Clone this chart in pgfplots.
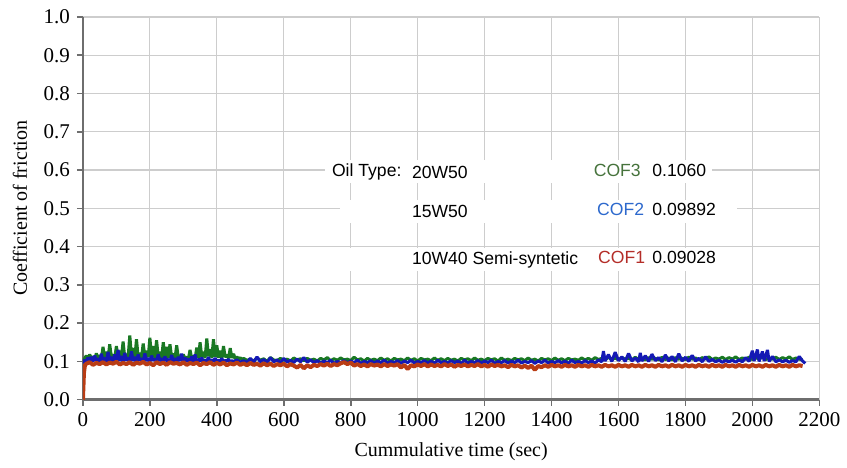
\documentclass[border=0pt]{standalone}
\usepackage{pgfplots}
\pgfplotsset{compat=1.18}
\usepackage{fontspec}
\setmainfont{Liberation Serif}
\newfontfamily\annofont{Liberation Sans}
\definecolor{cofgreen}{RGB}{25,120,35}
\definecolor{cofblue}{RGB}{20,25,180}
\definecolor{cofred}{RGB}{185,60,20}
\definecolor{lblgreen}{RGB}{70,115,60}
\definecolor{lblblue}{RGB}{45,105,205}
\definecolor{lblred}{RGB}{180,45,40}
\definecolor{axisgray}{RGB}{110,110,110}
\definecolor{gridgray}{RGB}{205,205,205}

\begin{document}
\begin{tikzpicture}
\begin{axis}[
    scale only axis,
    width=368.5pt, height=191.5pt,
    xmin=0, xmax=2200, ymin=0, ymax=1,
    xtick distance=200, ytick distance=0.1,
    axis x line=bottom, axis y line=left,
    axis line style={-, axisgray, line width=1.2pt},
    tick align=outside,
    major tick length=3pt,
    tick style={axisgray, line width=0.8pt},
    grid=major,
    major grid style={gridgray, line width=0.6pt},
    tick label style={font=\fontsize{10.5}{12}\selectfont},
    /pgf/number format/assume math mode=true,
    scaled ticks=false,
    xticklabel style={/pgf/number format/1000 sep={}},
    yticklabel style={/pgf/number format/.cd, fixed, fixed zerofill, precision=1},
    label style={font=\fontsize{10.5}{12}\selectfont},
    xlabel={Cummulative time (sec)},
    ylabel={Coefficient of friction},
    every axis x label/.style={at={(axis description cs:0.5,-0.136)}, anchor=center},
    every axis y label/.style={at={(axis description cs:-0.0855,0.5)}, rotate=90, anchor=center},
    clip=true,
]
% COF 3 - 20W50
\addplot[cofgreen, line width=1.5pt, line join=bevel] coordinates {
(0,.098) (5,.108) (10,.115) (15,.106) (20,.118) (25,.109) (30,.112) (35,.105) (40,.121) (45,.108)
(50,.116) (55,.107) (60,.138) (65,.110) (70,.125) (75,.108) (80,.145) (85,.112) (90,.118) (95,.109)
(100,.140) (105,.111) (110,.128) (115,.113) (120,.152) (125,.110) (130,.119) (135,.112) (140,.168) (145,.114)
(150,.135) (155,.110) (160,.158) (165,.112) (170,.122) (175,.109) (180,.147) (185,.113) (190,.128) (195,.111)
(200,.162) (205,.112) (210,.140) (215,.110) (220,.155) (225,.113) (230,.125) (235,.109) (240,.150) (245,.112)
(250,.138) (255,.110) (260,.145) (265,.111) (270,.120) (275,.108) (280,.142) (285,.110) (290,.116) (295,.108)
(300,.118) (305,.107) (310,.112) (315,.106) (320,.130) (325,.108) (330,.114) (335,.107) (340,.136) (345,.110)
(350,.150) (355,.112) (360,.125) (365,.109) (370,.160) (375,.113) (380,.132) (385,.110) (390,.158) (395,.112)
(400,.142) (405,.110) (410,.128) (415,.109) (420,.140) (425,.111) (430,.118) (435,.108) (440,.135) (445,.109)
(450,.120) (455,.107) (460,.112) (465,.106) (470,.110) (475,.104) (480,.108) (490,.103)
(500,.106) (510,.101) (520,.109) (530,.103) (540,.107) (550,.100) (560,.110) (570,.104) (580,.102) (590,.108)
(600,.103) (610,.106) (620,.101) (630,.109) (640,.104) (650,.107) (660,.102) (670,.108) (680,.103) (690,.106)
(700,.101) (710,.108) (720,.104) (730,.110) (740,.102) (750,.107) (760,.103) (770,.109) (780,.104) (790,.106)
(800,.102) (810,.111) (820,.104) (830,.107) (840,.101) (850,.108) (860,.103) (870,.106) (880,.102) (890,.109)
(900,.103) (910,.107) (920,.101) (930,.108) (940,.104) (950,.106) (960,.102) (970,.109) (980,.103) (990,.107)
(1000,.101) (1010,.108) (1020,.104) (1030,.106) (1040,.102) (1050,.109) (1060,.103) (1070,.107) (1080,.102) (1090,.108)
(1100,.103) (1110,.106) (1120,.101) (1130,.108) (1140,.104) (1150,.107) (1160,.102) (1170,.109) (1180,.103) (1190,.106)
(1200,.102) (1210,.108) (1220,.104) (1230,.107) (1240,.101) (1250,.109) (1260,.103) (1270,.106) (1280,.102) (1290,.108)
(1300,.104) (1310,.107) (1320,.102) (1330,.109) (1340,.103) (1350,.106) (1360,.101) (1370,.108) (1380,.104) (1390,.107)
(1400,.102) (1410,.109) (1420,.103) (1430,.107) (1440,.102) (1450,.108) (1460,.104) (1470,.106) (1480,.103) (1490,.109)
(1500,.104) (1510,.108) (1520,.103) (1530,.110) (1540,.105) (1550,.108) (1560,.104) (1570,.111) (1580,.105) (1590,.109)
(1600,.104) (1610,.110) (1620,.106) (1630,.108) (1640,.104) (1650,.111) (1660,.105) (1670,.109) (1680,.104) (1690,.110)
(1700,.106) (1710,.108) (1720,.104) (1730,.111) (1740,.105) (1750,.109) (1760,.104) (1770,.110) (1780,.106) (1790,.108)
(1800,.105) (1810,.111) (1820,.106) (1830,.109) (1840,.104) (1850,.110) (1860,.106) (1870,.112) (1880,.105) (1890,.109)
(1900,.106) (1910,.111) (1920,.105) (1930,.110) (1940,.106) (1950,.112) (1960,.105) (1970,.109) (1980,.106) (1990,.111)
(2000,.105) (2010,.110) (2020,.106) (2030,.112) (2040,.105) (2050,.109) (2060,.106) (2070,.111) (2080,.105) (2090,.110)
(2100,.106) (2110,.112) (2120,.105) (2130,.109) (2140,.106) (2150,.104)
};
% COF 2 - 15W50
\addplot[cofblue, line width=1.5pt, line join=bevel] coordinates {
(0,.095) (5,.104) (10,.099) (15,.110) (20,.101) (25,.112) (30,.100) (35,.115) (40,.102) (45,.108)
(50,.099) (55,.120) (60,.101) (65,.110) (70,.098) (75,.125) (80,.102) (85,.112) (90,.100) (95,.118)
(100,.103) (105,.130) (110,.101) (115,.114) (120,.099) (125,.122) (130,.102) (135,.110) (140,.100) (145,.126)
(150,.101) (155,.112) (160,.099) (165,.118) (170,.102) (175,.108) (180,.100) (185,.121) (190,.101) (195,.109)
(200,.099) (205,.115) (210,.102) (215,.107) (220,.100) (225,.119) (230,.101) (235,.108) (240,.099) (245,.113)
(250,.101) (255,.106) (260,.099) (265,.117) (270,.100) (275,.108) (280,.098) (285,.112) (290,.101) (295,.120)
(300,.099) (305,.110) (310,.100) (315,.107) (320,.098) (325,.113) (330,.100) (335,.118) (340,.099) (345,.106)
(350,.101) (355,.110) (360,.098) (365,.104) (370,.100) (375,.111) (380,.098) (385,.105) (390,.100) (395,.109)
(400,.098) (405,.104) (410,.100) (415,.108) (420,.098) (425,.103) (430,.100) (435,.106) (440,.098) (445,.102)
(450,.100) (460,.104) (470,.098) (480,.102) (490,.097)
(500,.108) (510,.098) (520,.112) (530,.099) (540,.105) (550,.097) (560,.110) (570,.099) (580,.104) (590,.097)
(600,.108) (610,.098) (620,.103) (630,.097) (640,.106) (650,.099) (660,.110) (670,.098) (680,.104) (690,.097)
(700,.102) (710,.096) (720,.101) (730,.097) (740,.103) (750,.095) (760,.100) (770,.097) (780,.102) (790,.096)
(800,.101) (810,.097) (820,.103) (830,.095) (840,.100) (850,.097) (860,.102) (870,.096) (880,.101) (890,.097)
(900,.103) (910,.096) (920,.100) (930,.097) (940,.102) (950,.095) (960,.101) (970,.097) (980,.103) (990,.096)
(1000,.100) (1010,.097) (1020,.102) (1030,.096) (1040,.101) (1050,.095) (1060,.103) (1070,.097) (1080,.100) (1090,.096)
(1100,.102) (1110,.097) (1120,.101) (1130,.095) (1140,.103) (1150,.096) (1160,.100) (1170,.097) (1180,.102) (1190,.096)
(1200,.101) (1210,.097) (1220,.103) (1230,.095) (1240,.100) (1250,.097) (1260,.102) (1270,.096) (1280,.101) (1290,.097)
(1300,.103) (1310,.096) (1320,.100) (1330,.097) (1340,.102) (1350,.095) (1360,.101) (1370,.097) (1380,.103) (1390,.096)
(1400,.100) (1410,.097) (1420,.102) (1430,.096) (1440,.101) (1450,.095) (1460,.103) (1470,.097) (1480,.100) (1490,.096)
(1500,.102) (1510,.097) (1520,.101) (1530,.096) (1540,.104) (1550,.099) (1555,.127) (1560,.101) (1570,.118) (1580,.100)
(1590,.124) (1600,.102) (1610,.112) (1620,.100) (1630,.121) (1640,.101) (1650,.109) (1660,.099) (1665,.122) (1670,.101)
(1680,.115) (1690,.100) (1700,.119) (1710,.102) (1720,.110) (1730,.099) (1740,.117) (1750,.101) (1760,.113) (1770,.099)
(1780,.120) (1790,.101) (1800,.111) (1810,.100) (1820,.116) (1830,.101) (1840,.108) (1850,.099) (1860,.112) (1870,.100)
(1880,.105) (1890,.099) (1900,.103) (1910,.098) (1920,.102) (1930,.099) (1940,.103) (1950,.098) (1960,.104) (1970,.099)
(1980,.110) (1990,.100) (2000,.128) (2005,.101) (2015,.131) (2020,.100) (2030,.126) (2035,.101) (2045,.130) (2050,.100)
(2060,.113) (2070,.099) (2080,.104) (2090,.099) (2100,.103) (2110,.098) (2120,.102) (2130,.099) (2140,.113) (2150,.101)
(2158,.095)
};
% COF 1 - 10W40 Semi-syntetic
\addplot[cofred, line width=2.0pt, line join=bevel] coordinates {
(0,.000) (3,.070) (6,.090) (10,.094) (20,.098) (30,.091) (40,.096) (50,.093) (60,.098) (70,.092)
(80,.097) (90,.094) (100,.099) (110,.092) (120,.096) (130,.093) (140,.098) (150,.091) (160,.097) (170,.094)
(180,.099) (190,.092) (200,.096) (210,.090) (220,.098) (230,.093) (240,.097) (250,.091) (260,.098) (270,.094)
(280,.096) (290,.092) (300,.098) (310,.091) (320,.096) (330,.093) (340,.097) (350,.090) (360,.096) (370,.093)
(380,.098) (390,.091) (400,.096) (410,.092) (420,.097) (430,.090) (440,.095) (450,.092) (460,.097) (470,.091)
(480,.095) (490,.090) (500,.096) (510,.091) (520,.094) (530,.089) (540,.095) (550,.090) (560,.094) (570,.088)
(580,.093) (590,.090) (600,.094) (610,.087) (620,.093) (630,.089) (640,.084) (650,.091) (660,.082) (670,.090)
(680,.085) (690,.091) (700,.088) (710,.093) (720,.089) (730,.094) (740,.088) (750,.093) (760,.090) (770,.095)
(780,.098) (790,.093) (800,.097) (810,.089) (820,.093) (830,.088) (840,.092) (850,.087) (860,.093) (870,.089)
(880,.092) (890,.087) (900,.093) (910,.088) (920,.092) (930,.089) (940,.093) (950,.084) (960,.091) (970,.080)
(980,.090) (990,.087) (1000,.092) (1010,.088) (1020,.093) (1030,.087) (1040,.092) (1050,.088) (1060,.091) (1070,.087)
(1080,.093) (1090,.088) (1100,.092) (1110,.086) (1120,.091) (1130,.088) (1140,.092) (1150,.087) (1160,.091) (1170,.088)
(1180,.093) (1190,.087) (1200,.091) (1210,.086) (1220,.092) (1230,.088) (1240,.091) (1250,.087) (1260,.090) (1270,.085)
(1280,.091) (1290,.087) (1300,.090) (1310,.084) (1320,.089) (1330,.083) (1340,.089) (1350,.078) (1360,.088) (1370,.085)
(1380,.090) (1390,.086) (1400,.091) (1410,.087) (1420,.090) (1430,.086) (1440,.091) (1450,.087) (1460,.090) (1470,.086)
(1480,.091) (1490,.087) (1500,.090) (1510,.086) (1520,.091) (1530,.087) (1540,.090) (1550,.086) (1560,.091) (1570,.087)
(1580,.090) (1590,.086) (1600,.091) (1610,.087) (1620,.090) (1630,.086) (1640,.091) (1650,.087) (1660,.090) (1670,.086)
(1680,.091) (1690,.087) (1700,.090) (1710,.086) (1720,.091) (1730,.087) (1740,.090) (1750,.086) (1760,.091) (1770,.087)
(1780,.090) (1790,.086) (1800,.091) (1810,.087) (1820,.090) (1830,.086) (1840,.091) (1850,.087) (1860,.090) (1870,.086)
(1880,.091) (1890,.087) (1900,.090) (1910,.086) (1920,.091) (1930,.087) (1940,.090) (1950,.086) (1960,.091) (1970,.087)
(1980,.090) (1990,.086) (2000,.091) (2010,.087) (2020,.090) (2030,.086) (2040,.091) (2050,.087) (2060,.090) (2070,.086)
(2080,.091) (2090,.087) (2100,.090) (2110,.086) (2120,.091) (2130,.087) (2140,.090) (2150,.088)
};
% annotation rows
\fill[white] (axis cs:722,0.566) rectangle (axis cs:1880,0.626);
\fill[white] (axis cs:767,0.462) rectangle (axis cs:1955,0.522);
\fill[white] (axis cs:767,0.337) rectangle (axis cs:1965,0.397);
\begin{scope}[every node/.style={font=\annofont\fontsize{8.8}{10}\selectfont, anchor=west, inner sep=0pt}]
\node at (axis cs:743,0.595) {Oil Type:};
\node at (axis cs:982,0.595) {20W50};
\node at (axis cs:982,0.491) {15W50};
\node at (axis cs:982,0.366) {10W40 Semi-syntetic};
\node[text=lblgreen] at (axis cs:1525,0.600) {COF3};
\node[text=lblblue] at (axis cs:1535,0.496) {COF2};
\node[text=lblred] at (axis cs:1538,0.371) {COF1};
\node at (axis cs:1700,0.600) {0.1060};
\node at (axis cs:1700,0.496) {0.09892};
\node at (axis cs:1700,0.371) {0.09028};
\end{scope}
\end{axis}
\path[use as bounding box] ([shift={(-41.5pt,-34pt)}]current axis.south west) rectangle ([shift={(13.5pt,8.5pt)}]current axis.north east);
\end{tikzpicture}
\end{document}
